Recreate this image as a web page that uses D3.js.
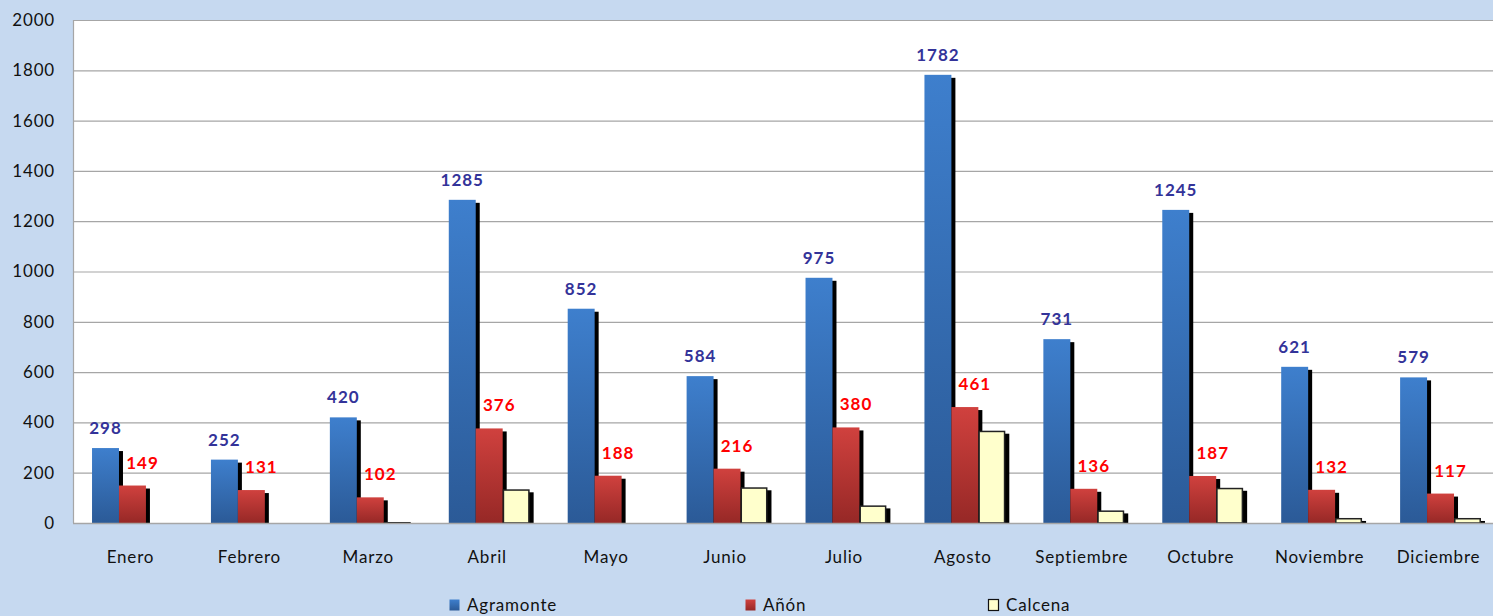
<!DOCTYPE html>
<html><head><meta charset="utf-8">
<script src="https://cdn.jsdelivr.net/npm/d3@7"></script>
<style>
html,body{margin:0;padding:0;background:#c6d9f0;}
svg{display:block;}
text{font-family:Lato,"Open Sans",sans-serif;}
</style></head>
<body>
<script>
const months = ["Enero","Febrero","Marzo","Abril","Mayo","Junio","Julio","Agosto","Septiembre","Octubre","Noviembre","Diciembre"];
const seriesNames = ["Agramonte","Añón","Calcena"];
const agramonte = [298,252,420,1285,852,584,975,1782,731,1245,621,579];
const anon = [149,131,102,376,188,216,380,461,136,187,132,117];
const calcena = [0,0,4,134,0,142,70,367,50,140,20,20];
const yTicks = [0,200,400,600,800,1000,1200,1400,1600,1800,2000];

const W = 1493, H = 616;
const svg = d3.select("body").append("svg").attr("width", W).attr("height", H);
svg.append("rect").attr("width", W).attr("height", H).attr("fill", "#c6d9f0");

const pLeft = 73, pTop = 20, pBottom = 523, pRight = 1500;
const x = d3.scaleBand().domain(months).range([pLeft, pRight]).padding(0);
const y = d3.scaleLinear().domain([0, 2000]).range([pBottom, pTop]);
const groupW = x.bandwidth() * 0.68;
const xs = d3.scaleBand().domain(seriesNames).range([-groupW/2, groupW/2]).padding(0);

// plot area
svg.append("rect").attr("x", pLeft).attr("y", pTop).attr("width", W - pLeft).attr("height", pBottom - pTop).attr("fill", "#ffffff");

// gridlines
svg.append("g").selectAll("line").data(yTicks).join("line")
  .attr("x1", pLeft).attr("x2", W).attr("y1", d => y(d) + 0.5).attr("y2", d => y(d) + 0.5)
  .attr("stroke", "#a6a6a6").attr("stroke-width", 1.2);
svg.append("line").attr("x1", pLeft + 0.5).attr("x2", pLeft + 0.5).attr("y1", pTop).attr("y2", pBottom)
  .attr("stroke", "#a6a6a6").attr("stroke-width", 1.2);

// y axis labels
const yAxis = d3.axisLeft(y).tickValues(yTicks).tickFormat(d3.format("d")).tickSize(0).tickPadding(18);
const ya = svg.append("g").attr("transform", `translate(${pLeft},0)`).call(yAxis);
ya.select(".domain").remove();
ya.selectAll("text").attr("font-size", 17).attr("fill", "#111").attr("font-family", "Lato, sans-serif")
  .attr("letter-spacing", "0.8px");

// x axis labels
const xAxis = d3.axisBottom(x).tickSize(0).tickPadding(28);
const xa = svg.append("g").attr("transform", `translate(0,${pBottom})`).call(xAxis);
xa.select(".domain").remove();
xa.selectAll("text").attr("font-size", 17).attr("fill", "#111").attr("font-family", "Lato, sans-serif")
  .attr("letter-spacing", "0.8px").attr("dx", -2);

// gradients
const defs = svg.append("defs");
function grad(id, c1, c2) {
  const g = defs.append("linearGradient").attr("id", id).attr("x1", 0).attr("y1", 0).attr("x2", 0).attr("y2", 1);
  g.append("stop").attr("offset", "0%").attr("stop-color", c1);
  g.append("stop").attr("offset", "100%").attr("stop-color", c2);
}
grad("gBlue", "#3e7fcd", "#2b5a97");
grad("gRed", "#d0413e", "#962826");
defs.append("clipPath").attr("id", "plotClip").append("rect")
  .attr("x", pLeft).attr("y", 0).attr("width", W).attr("height", pBottom);

const series = [
  {name: "Agramonte", values: agramonte, fill: "url(#gBlue)", stroke: "none"},
  {name: "Añón", values: anon, fill: "url(#gRed)", stroke: "none"},
  {name: "Calcena", values: calcena, fill: "#ffffcc", stroke: "#222"}
];

const bars = svg.append("g").attr("clip-path", "url(#plotClip)");
series.forEach(s => {
  const bw = xs.bandwidth();
  const data = months.map((m, i) => ({m, v: s.values[i]}));
  const sb = s.stroke !== "none" ? 0.75 : 0;
  bars.append("g").selectAll("rect").data(data.filter(d => d.v > 0)).join("rect")
    .attr("x", d => x(d.m) + x.bandwidth()/2 + xs(s.name) + 4)
    .attr("y", d => y(d.v) + 3)
    .attr("width", bw)
    .attr("height", d => pBottom - y(d.v))
    .attr("fill", "#000");
  bars.append("g").selectAll("rect").data(data.filter(d => d.v > 0)).join("rect")
    .attr("x", d => x(d.m) + x.bandwidth()/2 + xs(s.name) + sb)
    .attr("y", d => y(d.v) + sb)
    .attr("width", bw - 2*sb)
    .attr("height", d => Math.max(0, pBottom - y(d.v) - sb))
    .attr("fill", s.fill)
    .attr("stroke", s.stroke)
    .attr("stroke-width", 1.5);
});

// baseline
svg.append("line").attr("x1", pLeft).attr("x2", W).attr("y1", pBottom + 0.5).attr("y2", pBottom + 0.5)
  .attr("stroke", "#a6a6a6").attr("stroke-width", 1.5);

// data labels
svg.append("g").selectAll("text").data(months.map((m, i) => ({m, v: agramonte[i]}))).join("text")
  .attr("x", d => x(d.m) + x.bandwidth()/2 + xs("Agramonte") + xs.bandwidth()/2)
  .attr("y", d => y(d.v) - 14)
  .attr("text-anchor", "middle").attr("font-size", 17).attr("font-weight", "bold")
  .attr("letter-spacing", "1px")
  .attr("fill", "#333399").text(d => d.v);
svg.append("g").selectAll("text").data(months.map((m, i) => ({m, v: anon[i]}))).join("text")
  .attr("x", d => x(d.m) + x.bandwidth()/2 + xs("Añón") + xs.bandwidth()/2 + 10)
  .attr("y", d => y(d.v) - 17)
  .attr("text-anchor", "middle").attr("font-size", 17).attr("font-weight", "bold")
  .attr("letter-spacing", "1px")
  .attr("fill", "#ff0000").text(d => d.v);

// legend
const legendX = [449, 745, 988];
const lg = svg.append("g");
series.forEach((s, i) => {
  const g = lg.append("g").attr("transform", `translate(${legendX[i]},0)`);
  g.append("rect").attr("x", 0.5).attr("y", 599.5).attr("width", 10).attr("height", 11)
    .attr("fill", s.fill).attr("stroke", i === 2 ? "#111" : "none").attr("stroke-width", 1.2);
  g.append("text").attr("x", 18).attr("y", 611).attr("font-size", 17).attr("fill", "#111")
    .attr("letter-spacing", "0.8px").text(s.name);
});
</script>
</body></html>
